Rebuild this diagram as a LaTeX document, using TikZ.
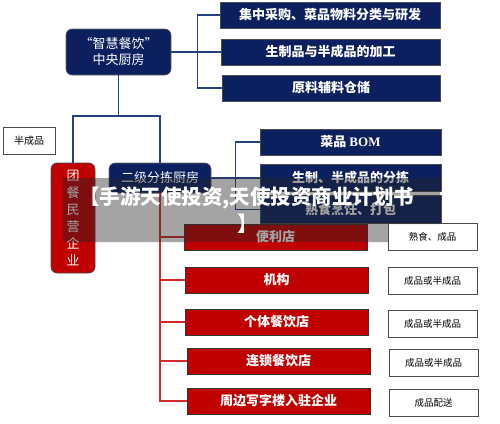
\documentclass[tikz,border=0pt]{standalone}
\usepackage{fontspec}
\setmainfont{Liberation Serif}
\newfontfamily\cjk{Noto Sans CJK SC}
\usetikzlibrary{positioning}
\definecolor{navy}{HTML}{0C1F5F}
\definecolor{navyline}{HTML}{23407F}
\definecolor{redbox}{HTML}{C00000}
\definecolor{redline}{HTML}{D42A2A}
\tikzset{
  navybox/.style={draw=black!70, line width=0.6pt, fill=navy, text=white, inner sep=0pt, font=\cjk\bfseries\fontsize{13}{15}\selectfont},
  navyround/.style={draw=black!60, line width=0.6pt, fill=navy, text=white, rounded corners=6pt, inner sep=0pt, font=\cjk\fontsize{13}{16}\selectfont, align=center},
  redbox/.style={draw=black!80, line width=0.6pt, fill=redbox, text=white, inner sep=0pt, font=\cjk\bfseries\fontsize{13}{15}\selectfont},
  whitebox/.style={draw=black!70, line width=0.6pt, fill=white, text=black, inner sep=0pt, font=\cjk\fontsize{9.5}{11}\selectfont},
  navyconn/.style={draw=navyline, line width=1.1pt},
  redconn/.style={draw=redline, line width=1.1pt},
}
\begin{document}
\begin{tikzpicture}[x=1pt,y=-1pt]
\useasboundingbox (0,0) rectangle (500,423);
% top central kitchen
\node[navyround, minimum width=105, minimum height=46] (top) at (118.5,52) {“智慧餐饮”\\中央厨房};
\node[navybox, minimum width=220, minimum height=26] (r1) at (330,15) {集中采购、菜品物料分类与研发};
\node[navybox, minimum width=219, minimum height=26] (r2) at (330.5,52) {生制品与半成品的加工};
\node[navybox, minimum width=218, minimum height=26] (r3) at (331,88) {原料辅料仓储};
\draw[navyconn] (r1.west) -- ++(-22,0) |- (r3.west);
\draw[navyconn] (top.east) -- (r2.west);
% second level
\node[whitebox, minimum width=52, minimum height=27, font=\cjk\fontsize{10}{12}\selectfont] (semi) at (29,140.5) {半成品};
\node[draw=black!70, line width=0.6pt, fill=redbox, text=white, rounded corners=6pt, inner sep=0pt, minimum width=44, minimum height=110, align=center, font=\cjk\fontsize{13}{17}\selectfont] (tuan) at (73,218) {团\\餐\\民\\营\\企\\业};
\node[navyround, minimum width=102, minimum height=30] (sec) at (160,178) {二级分拣厨房};
\coordinate (j) at (118.5,116);
\draw[navyconn] (top.south) -- (j);
\draw[navyconn] (tuan.north) |- (j) -| (sec.north);
\node[navybox, minimum width=181, minimum height=26] (r4) at (350.5,142) {\cjk\bfseries 菜品 \rmfamily\bfseries BOM};
\node[navybox, minimum width=181, minimum height=27] (r5) at (350.5,178) {生制、半成品的分拣};
\node[navybox, minimum width=181, minimum height=28] (r6) at (350.5,209.5) {熟食烹饪、打包};
\draw[navyconn] (r4.west) -- ++(-24,0) |- (r6.west);
\draw[navyconn] (sec.east) -- (r5.west);
% red branches
\node[redbox, minimum width=183, minimum height=26] (b1) at (275.5,237) {便利店};
\node[redbox, minimum width=183, minimum height=26] (b2) at (276.5,280) {机构};
\node[redbox, minimum width=183, minimum height=26] (b3) at (276.5,322) {个体餐饮店};
\node[redbox, minimum width=183, minimum height=26] (b4) at (278.5,361) {连锁餐饮店};
\node[redbox, minimum width=183, minimum height=26] (b5) at (278.5,401) {周边写字楼入驻企业};
\draw[redconn] (sec.south) |- (b5.west);
\foreach \b in {b1,b2,b3,b4} \draw[redconn] (\b.west) -- (\b.west -| sec.south);
% white labels
\node[whitebox, minimum width=89, minimum height=27] (w1) at (432.5,236.5) {\raisebox{-3pt}{熟食、成品}};
\node[whitebox, minimum width=89, minimum height=27] (w2) at (432.5,280.5) {\raisebox{-3pt}{成品或半成品}};
\node[whitebox, minimum width=89, minimum height=27] (w3) at (432.5,323.5) {\raisebox{-3pt}{成品或半成品}};
\node[whitebox, minimum width=89, minimum height=27] (w4) at (433.5,362.5) {\raisebox{-3pt}{成品或半成品}};
\node[whitebox, minimum width=89, minimum height=27] (w5) at (433.5,402.5) {\raisebox{-3pt}{成品配送}};
% overlay banner
\fill[black!85, opacity=0.42] (63,178) -- (440,178) -- (440,224) -- (388,224) -- (388,242) -- (63,242) -- cycle;
\node[anchor=west, inner sep=0pt, text=white, font=\cjk\bfseries\fontsize{20.5}{22}\selectfont] (ban1) at (79,198) {【手游天使投资,天使投资商业计划书};
\node[anchor=west, inner sep=0pt, text=white, font=\cjk\bfseries\fontsize{20.5}{22}\selectfont] (ban2) at (237,224) {】};
\end{tikzpicture}
\end{document}
